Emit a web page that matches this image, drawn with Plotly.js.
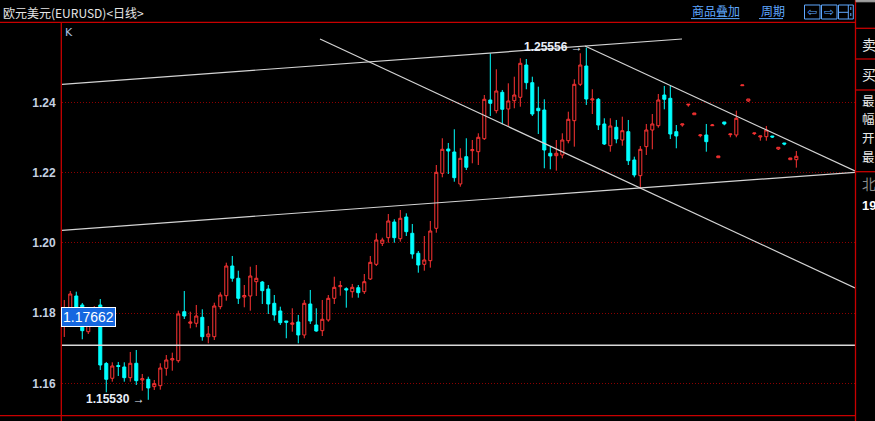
<!DOCTYPE html>
<html>
<head>
<meta charset="utf-8">
<script src="https://cdn.plot.ly/plotly-3.0.1.min.js"></script>
<style>
html,body{margin:0;padding:0;background:#000;}
#chart{width:875px;height:421px;}
</style>
</head>
<body>
<div id="chart"></div>
<script>
// ---- data (EURUSD daily) ----
const open = [
1.17689,1.18087,1.18486,1.18230,1.17469,1.17916,1.18230,1.16564,1.16143,1.16507,
1.16465,1.16160,1.16570,1.16094,1.16114,1.15904,1.15932,1.16427,1.16664,1.16644,
1.18039,1.17709,1.17709,1.17879,1.17327,1.17327,1.18181,1.18494,1.19340,1.18990,
1.18457,1.18486,1.18893,1.18884,1.18685,1.18278,1.18059,1.17774,1.17680,1.17746,
1.17376,1.18258,1.17660,1.17498,1.17803,1.18420,1.18751,1.18694,1.18608,1.18722,
1.18608,1.18970,1.19388,1.19986,1.20146,1.20593,1.20117,1.20735,1.20271,1.19702,
1.19388,1.19491,1.20413,1.21979,1.22671,1.22586,1.21675,1.22452,1.22623,1.22594,
1.22964,1.24066,1.23761,1.24285,1.23810,1.24046,1.24143,1.25062,1.24559,1.23830,
1.23781,1.22549,1.22480,1.22500,1.22907,1.23477,1.24513,1.25034,1.24066,1.24086,
1.23383,1.22765,1.23289,1.22927,1.23164,1.22358,1.21911,1.22737,1.23212,1.23334,
1.24208,1.24114,1.23164,1.23354,1.23924,1.23647,1.23050,1.23070,1.23334,1.22423,
1.23440,1.23078,1.23070,1.24473,1.24038,1.23107,1.23013,1.23021,1.23041,1.22671,
1.22842,1.22366,1.22366];
const high = [
1.18372,1.18628,1.18608,1.18287,1.17916,1.18201,1.18400,1.16607,1.16598,1.16607,
1.16598,1.16892,1.16948,1.16265,1.16188,1.16094,1.16570,1.16806,1.16872,1.18067,
1.18628,1.18039,1.18230,1.18107,1.17632,1.18295,1.18591,1.19434,1.19625,1.19206,
1.18799,1.19320,1.19368,1.18913,1.18799,1.18514,1.18181,1.17774,1.18136,1.17945,
1.18372,1.18657,1.18136,1.18372,1.18514,1.19035,1.18913,1.18733,1.18828,1.18799,
1.19112,1.19625,1.20271,1.20146,1.20820,1.20670,1.20934,1.20840,1.20536,1.19767,
1.20194,1.20621,1.22215,1.22976,1.22842,1.23232,1.22691,1.22976,1.22927,1.23118,
1.24208,1.25396,1.24940,1.24351,1.24541,1.24729,1.25253,1.25233,1.24729,1.24445,
1.24086,1.22737,1.22927,1.23118,1.23733,1.24655,1.25396,1.25556,1.24371,1.24123,
1.23545,1.23545,1.23497,1.23591,1.23497,1.22452,1.22756,1.23383,1.23667,1.24237,
1.24465,1.24465,1.23354,1.23383,1.23944,1.23696,1.23098,1.23383,1.23383,1.22472,
1.23440,1.23098,1.23761,1.24493,1.24094,1.23126,1.23041,1.23326,1.23041,1.22719,
1.22842,1.22415,1.22614];
const low = [
1.17319,1.18002,1.17973,1.17253,1.17404,1.17860,1.16379,1.15744,1.16046,1.16208,
1.16046,1.16046,1.15952,1.15790,1.15530,1.15810,1.15818,1.16217,1.16359,1.16587,
1.17831,1.17566,1.17595,1.17213,1.17139,1.17233,1.18107,1.18352,1.18893,1.18258,
1.18164,1.18067,1.18486,1.18258,1.17973,1.17783,1.17660,1.17282,1.17469,1.17139,
1.17282,1.17689,1.17469,1.17347,1.17754,1.18258,1.18494,1.18153,1.18437,1.18437,
1.18543,1.18941,1.19340,1.19909,1.20003,1.20003,1.20032,1.20194,1.19548,1.19149,
1.19206,1.19292,1.20288,1.21865,1.21959,1.21740,1.21598,1.22073,1.22264,1.22215,
1.22927,1.23610,1.23687,1.23374,1.23326,1.23830,1.23875,1.24371,1.23610,1.23098,
1.22122,1.22093,1.22053,1.22406,1.22833,1.22737,1.24465,1.23924,1.23667,1.23212,
1.22785,1.22594,1.22833,1.22765,1.22215,1.21865,1.21552,1.22500,1.22662,1.23277,
1.23801,1.22956,1.22691,1.23306,1.23875,1.23647,1.23004,1.22594,1.23326,1.22423,
1.23346,1.23004,1.23004,1.24473,1.24009,1.23070,1.22907,1.22907,1.22984,1.22642,
1.22776,1.22366,1.22139];
const close = [
1.18087,1.18543,1.18087,1.17498,1.17803,1.18116,1.16521,1.16114,1.16493,1.16479,
1.16160,1.16570,1.16074,1.16131,1.15867,1.15989,1.16436,1.16664,1.16701,1.17973,
1.17916,1.17746,1.17916,1.17327,1.17404,1.18201,1.18514,1.19340,1.18990,1.18420,
1.18500,1.19055,1.18990,1.18637,1.18258,1.17945,1.17726,1.17737,1.17717,1.17376,
1.18278,1.17774,1.17489,1.17822,1.18420,1.18733,1.18779,1.18657,1.18733,1.18580,
1.18893,1.19445,1.20080,1.20080,1.20621,1.20146,1.20698,1.20317,1.19682,1.19368,
1.19511,1.20336,1.22008,1.22662,1.22614,1.21854,1.22406,1.22150,1.22651,1.23004,
1.24086,1.23972,1.24322,1.23801,1.24038,1.24208,1.25111,1.24559,1.23667,1.23761,
1.22642,1.22472,1.22549,1.22927,1.23517,1.24513,1.25062,1.24094,1.24094,1.23354,
1.22813,1.23326,1.22956,1.23192,1.22338,1.21931,1.22662,1.23212,1.23383,1.24066,
1.24086,1.23098,1.23041,1.23383,1.23944,1.23696,1.23070,1.22879,1.23354,1.22472,
1.23383,1.23098,1.23545,1.24493,1.24094,1.23126,1.23041,1.23212,1.23013,1.22719,
1.22813,1.22415,1.22463];
const yTicks = [1.16, 1.18, 1.20, 1.22, 1.24];
const yTickText = ['1.16', '1.18', '1.20', '1.22', '1.24'];
const highLabel = '1.25556';
const lowLabel = '1.15530';
const cursorLabel = '1.17662';
// trend lines: [x0, y0, x1, y1] in bar index / price
const trendUpper = [-0.38, 1.24513, 102.95, 1.25803];
const trendLower = [-0.38, 1.20356, 131.78, 1.22008];
const trendDown1 = [42.62, 1.25803, 131.78, 1.18714];
const trendDown2 = [86.78, 1.25603, 131.78, 1.22045];
const hLine = 1.17082;

// ---- geometry helpers (pixel -> paper) ----
const PL = 62, PR = 855, PT = 23, PB = 416;
const xp = px => (px - PL) / (PR - PL);
const yp = py => (PB - py) / (PB - PT);

const idx = open.map((_, i) => i);

const RED = '#c80000';
const LINK = '#5fa8ff';

const trace = {
  type: 'candlestick',
  x: idx, open: open, high: high, low: low, close: close,
  increasing: {line: {color: '#ff3434', width: 1}, fillcolor: '#000000'},
  decreasing: {line: {color: '#00ffff', width: 1}, fillcolor: '#00ffff'},
  whiskerwidth: 0,
  hoverinfo: 'skip',
  showlegend: false
};

function dataLine(a, color) {
  return {type: 'line', xref: 'x', yref: 'y', x0: a[0], y0: a[1], x1: a[2], y1: a[3],
          line: {color: color || '#d4d4d4', width: 1.2}, layer: 'above'};
}
function pLine(x0, y0, x1, y1, color, w, dash) {
  return {type: 'line', xref: 'paper', yref: 'paper', x0: xp(x0), y0: yp(y0), x1: xp(x1), y1: yp(y1),
          line: {color: color, width: w || 1, dash: dash || 'solid'}, layer: 'above'};
}
function pRect(x0, y0, x1, y1, color, fill) {
  return {type: 'rect', xref: 'paper', yref: 'paper', x0: xp(x0), y0: yp(y0), x1: xp(x1), y1: yp(y1),
          line: {color: color, width: 1}, fillcolor: fill || 'rgba(0,0,0,0)', layer: 'above'};
}

const shapes = [
  dataLine(trendUpper), dataLine(trendLower), dataLine(trendDown1), dataLine(trendDown2),
  {type: 'line', xref: 'paper', yref: 'y', x0: 0, x1: 1, y0: hLine, y1: hLine,
   line: {color: '#d8d8d8', width: 1.5}, layer: 'above'},
  // frame
  pLine(0, 22.3, 855.5, 22.3, RED, 1.3),
  pLine(0, 415.7, 855.5, 415.7, RED, 1.3),
  pLine(61.3, 22.3, 61.3, 421, RED, 1.3),
  pLine(855.5, 0, 855.5, 421, RED, 1.3),
  pLine(855.5, 28.3, 875, 28.3, RED, 1.3),
  pLine(855.5, 59, 875, 59, RED, 1.3),
  pLine(855.5, 90, 875, 90, RED, 1.3),
  pLine(855.5, 171.7, 875, 171.7, RED, 1.3),
  pRect(856, 0, 875, 1.8, '#a0a0a0', '#a0a0a0'),
  // link underlines
  pLine(691, 18.6, 739.5, 18.6, LINK, 1),
  pLine(759, 18.6, 783, 18.6, LINK, 1),
  // buttons
  pRect(804.5, 5, 820, 19, LINK),
  pRect(821.5, 5, 837, 19, LINK),
  pRect(838.5, 5, 853.3, 19, LINK),
  pLine(839, 12.3, 848.3, 12.3, LINK, 1),
  pLine(848.3, 5, 848.3, 19, LINK, 1),
  pLine(850.8, 7, 850.8, 17.5, LINK, 1, 'dot')
];

function sideTxt(t, py, size, color, bold) {
  return {xref: 'paper', yref: 'paper', x: xp(859.5), y: yp(py), xanchor: 'left', yanchor: 'middle',
          text: t, showarrow: false,
          font: {family: bold ? 'Liberation Sans' : 'Noto Sans CJK SC', size: size,
                 color: color || '#e8e8e8', weight: bold ? 'bold' : 'normal'}};
}

const annotations = [
  {xref: 'paper', yref: 'paper', x: xp(1), y: yp(12.5), xanchor: 'left', yanchor: 'middle',
   text: '欧元美元(EURUSD)&lt;日线&gt;', showarrow: false,
   font: {family: 'Noto Sans CJK SC', size: 12, color: '#e6e6e6'}},
  {xref: 'paper', yref: 'paper', x: xp(63), y: yp(32), xanchor: 'left', yanchor: 'middle',
   text: 'K', showarrow: false, font: {family: 'DejaVu Sans', size: 11, color: '#a8c4e4'}},
  {xref: 'paper', yref: 'paper', x: xp(690), y: yp(11), xanchor: 'left', yanchor: 'middle',
   text: '商品叠加', showarrow: false, font: {family: 'Noto Sans CJK SC', size: 12, color: LINK}},
  {xref: 'paper', yref: 'paper', x: xp(758.5), y: yp(11), xanchor: 'left', yanchor: 'middle',
   text: '周期', showarrow: false, font: {family: 'Noto Sans CJK SC', size: 12, color: LINK}},
  {xref: 'paper', yref: 'paper', x: xp(812.3), y: yp(12), xanchor: 'center', yanchor: 'middle',
   text: '⇦', showarrow: false, font: {family: 'DejaVu Sans', size: 12, color: LINK}},
  {xref: 'paper', yref: 'paper', x: xp(829.3), y: yp(12), xanchor: 'center', yanchor: 'middle',
   text: '⇨', showarrow: false, font: {family: 'DejaVu Sans', size: 12, color: LINK}},
  sideTxt('卖', 44, 14), sideTxt('买', 74, 14), sideTxt('最', 100, 12.5), sideTxt('幅', 118.5, 12.5),
  sideTxt('开', 137.5, 12.5), sideTxt('最', 156.5, 12.5), sideTxt('北', 183, 14, '#8a8a8a'),
  sideTxt('19', 205, 13, '#ffffff', true),
  {xref: 'x', yref: 'y', x: 86.78, y: 1.25566, xanchor: 'right', yanchor: 'middle',
   text: highLabel + ' →', showarrow: false,
   font: {family: 'Liberation Sans', size: 12, weight: 'bold', color: '#e8eef8'}},
  {xref: 'x', yref: 'y', x: 13.83, y: 1.15545, xanchor: 'right', yanchor: 'middle',
   text: lowLabel + ' →', showarrow: false,
   font: {family: 'Liberation Sans', size: 12, weight: 'bold', color: '#e8eef8'}},
  {xref: 'paper', yref: 'paper', x: xp(61), y: yp(317), xanchor: 'left', yanchor: 'middle',
   text: cursorLabel, showarrow: false, bgcolor: '#1467e0', bordercolor: '#ffffff', borderwidth: 1, borderpad: 1,
   font: {family: 'Liberation Sans', size: 14, color: '#ffffff'}}
];

const layout = {
  width: 875, height: 421,
  paper_bgcolor: '#000000', plot_bgcolor: '#000000',
  margin: {l: PL, r: 875 - PR, t: PT, b: 421 - PB, pad: 0},
  showlegend: false,
  boxgap: 0.28,
  xaxis: {range: [-0.38, 131.78], showgrid: false, zeroline: false, showline: false,
          showticklabels: false, ticks: '', rangeslider: {visible: false}, fixedrange: true},
  yaxis: {range: [1.15069, 1.26258], tickvals: yTicks, ticktext: yTickText,
          showgrid: true, gridcolor: '#8c0000', gridwidth: 1, griddash: '1px,2px',
          zeroline: false, showline: false, ticks: 'outside', ticklen: 3, tickcolor: 'rgba(0,0,0,0)',
          tickfont: {family: 'Liberation Sans', size: 12, weight: 'bold', color: '#c4d0e2'},
          fixedrange: true},
  shapes: shapes,
  annotations: annotations
};

Plotly.newPlot('chart', [trace], layout, {staticPlot: true, displayModeBar: false});
</script>
</body>
</html>
